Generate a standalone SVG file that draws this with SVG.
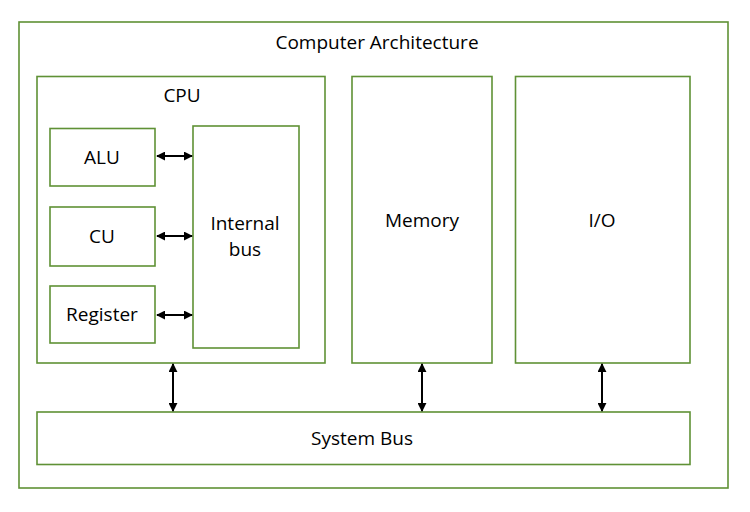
<svg xmlns="http://www.w3.org/2000/svg" width="750" height="512" viewBox="0 0 750 512">
<style>
.box{fill:#fff;stroke:#5f9135;stroke-width:1.6}
.t{font-family:"Open Sans","Liberation Sans",sans-serif;font-size:19px;fill:#000;text-anchor:middle}
.c{stroke:#000;stroke-width:2;fill:none}
</style>
<defs>
<marker id="ah" viewBox="0 0 10 10" refX="9" refY="5" markerWidth="4.5" markerHeight="4.5" orient="auto-start-reverse" markerUnits="strokeWidth">
<path d="M0,0 L10,5 L0,10 z" fill="#000"/>
</marker>
</defs>
<rect width="750" height="512" fill="#fff"/>
<g id="computer">
<rect class="box" x="19" y="22" width="709" height="466"/>
<text class="t" x="377" y="49">Computer Architecture</text>
</g>
<g id="cpu">
<rect class="box" x="37" y="76.5" width="288" height="286.5"/>
<text class="t" x="182" y="102">CPU</text>
</g>
<g id="alu">
<rect class="box" x="50" y="128.5" width="105" height="57.5"/>
<text class="t" x="102" y="164">ALU</text>
</g>
<g id="cu">
<rect class="box" x="50" y="207" width="105" height="59"/>
<text class="t" x="102" y="243">CU</text>
</g>
<g id="register">
<rect class="box" x="50" y="286" width="105" height="57"/>
<text class="t" x="102" y="321">Register</text>
</g>
<g id="internalbus">
<rect class="box" x="193" y="126" width="106" height="222"/>
<text class="t" x="245" y="230">Internal</text>
<text class="t" x="245" y="256">bus</text>
</g>
<g id="memory">
<rect class="box" x="352" y="76.5" width="140" height="286.5"/>
<text class="t" x="422" y="227">Memory</text>
</g>
<g id="io">
<rect class="box" x="515.5" y="76.5" width="174.5" height="286.5"/>
<text class="t" x="602" y="227">I/O</text>
</g>
<g id="systembus">
<rect class="box" x="37" y="412" width="653" height="52.5"/>
<text class="t" x="362" y="445">System Bus</text>
</g>
<g id="connectors">
<line class="c" x1="157" y1="156" x2="192" y2="156" marker-start="url(#ah)" marker-end="url(#ah)"/>
<line class="c" x1="157" y1="236" x2="192" y2="236" marker-start="url(#ah)" marker-end="url(#ah)"/>
<line class="c" x1="157" y1="315" x2="192" y2="315" marker-start="url(#ah)" marker-end="url(#ah)"/>
<line class="c" x1="173" y1="364" x2="173" y2="411" marker-start="url(#ah)" marker-end="url(#ah)"/>
<line class="c" x1="422" y1="364" x2="422" y2="411" marker-start="url(#ah)" marker-end="url(#ah)"/>
<line class="c" x1="602" y1="364" x2="602" y2="411" marker-start="url(#ah)" marker-end="url(#ah)"/>
</g>
</svg>
